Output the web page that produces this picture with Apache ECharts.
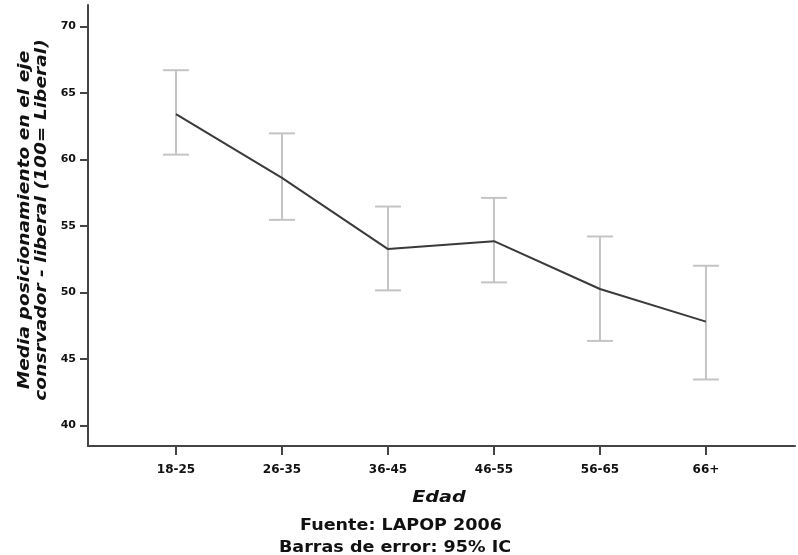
<!DOCTYPE html>
<html><head><meta charset="utf-8">
<script src="https://cdn.jsdelivr.net/npm/echarts@6/dist/echarts.min.js"></script>
<style>html,body{margin:0;padding:0;background:#fff}#c{width:798px;height:555px}</style>
</head><body><div id="c"></div>
<script>
var categories = ['18-25','26-35','36-45','46-55','56-65','66+'];
var means = [63.4, 58.6, 53.25, 53.85, 50.25, 47.8];
var lower = [60.35, 55.45, 50.15, 50.75, 46.35, 43.45];
var upper = [66.7, 61.95, 56.45, 57.1, 54.2, 52.0];
var yTicks = [40, 45, 50, 55, 60, 65, 70];

var chart = echarts.init(document.getElementById('c'));
var idx = categories.map(function(_, i){ return i; });
var lineData = means.map(function(v, i){ return [i, v]; });
var errData = idx.map(function(i){ return [i, lower[i], upper[i]]; });
var axisColor = '#444';
var FF = 'DejaVu Sans';
chart.setOption({
  animation: false,
  grid: {left: 88, top: 5, right: 3, bottom: 109, containLabel: false},
  xAxis: {
    type: 'value', min: -0.83, max: 5.84,
    axisLine: {show: true, onZero: false, lineStyle: {color: axisColor, width: 2}},
    axisTick: {show: true, customValues: idx, length: 9, lineStyle: {color: axisColor, width: 2}},
    splitLine: {show: false},
    axisLabel: {customValues: idx, formatter: function(v){ return categories[Math.round(v)]; },
      fontFamily: FF, fontWeight: 'bold', fontSize: 12, color: '#111', margin: 18}
  },
  yAxis: {
    type: 'value', min: 38.45, max: 71.6,
    axisLine: {show: true, onZero: false, lineStyle: {color: axisColor, width: 2}},
    axisTick: {show: true, customValues: yTicks, length: 8, lineStyle: {color: axisColor, width: 2}},
    splitLine: {show: false},
    axisLabel: {customValues: yTicks, fontFamily: FF, fontWeight: 'bold', fontSize: 11, color: '#111', margin: 12}
  },
  graphic: [
    {type: 'text', x: 34, y: 220, rotation: Math.PI/2, scaleX: 1.24,
      style: {x: 0, y: 0, text: 'Media posicionamiento en el eje\nconsrvador - liberal (100= Liberal)', fontFamily: FF,
        fontWeight: 'bold', fontStyle: 'italic', fontSize: 15, fill: '#111', align: 'center', verticalAlign: 'middle', lineHeight: 17}},
    {type: 'text', x: 439, y: 498, scaleX: 1.2,
      style: {x: 0, y: 0, text: 'Edad', fontFamily: FF, fontWeight: 'bold', fontStyle: 'italic', fontSize: 16, fill: '#111', align: 'center', verticalAlign: 'middle'}},
    {type: 'text', x: 401, y: 526, scaleX: 1.17,
      style: {x: 0, y: 0, text: 'Fuente: LAPOP 2006', fontFamily: FF, fontWeight: 'bold', fontSize: 15, fill: '#111', align: 'center', verticalAlign: 'middle'}},
    {type: 'text', x: 395, y: 548, scaleX: 1.17,
      style: {x: 0, y: 0, text: 'Barras de error: 95% IC', fontFamily: FF, fontWeight: 'bold', fontSize: 15, fill: '#111', align: 'center', verticalAlign: 'middle'}}
  ],
  series: [
    {type: 'custom', data: errData, z: 1,
      renderItem: function(params, api){
        var x = api.value(0);
        var lo = api.coord([x, api.value(1)]);
        var hi = api.coord([x, api.value(2)]);
        var hw = 13;
        var st = {stroke: '#c4c4c4', lineWidth: 2};
        return {type: 'group', children: [
          {type: 'line', shape: {x1: lo[0], y1: lo[1], x2: hi[0], y2: hi[1]}, style: st},
          {type: 'line', shape: {x1: lo[0]-hw, y1: lo[1], x2: lo[0]+hw, y2: lo[1]}, style: st},
          {type: 'line', shape: {x1: hi[0]-hw, y1: hi[1], x2: hi[0]+hw, y2: hi[1]}, style: st}
        ]};
      }},
    {type: 'line', data: lineData, z: 2, symbol: 'none', lineStyle: {color: '#3a3a3a', width: 2}}
  ]
});
</script></body></html>
